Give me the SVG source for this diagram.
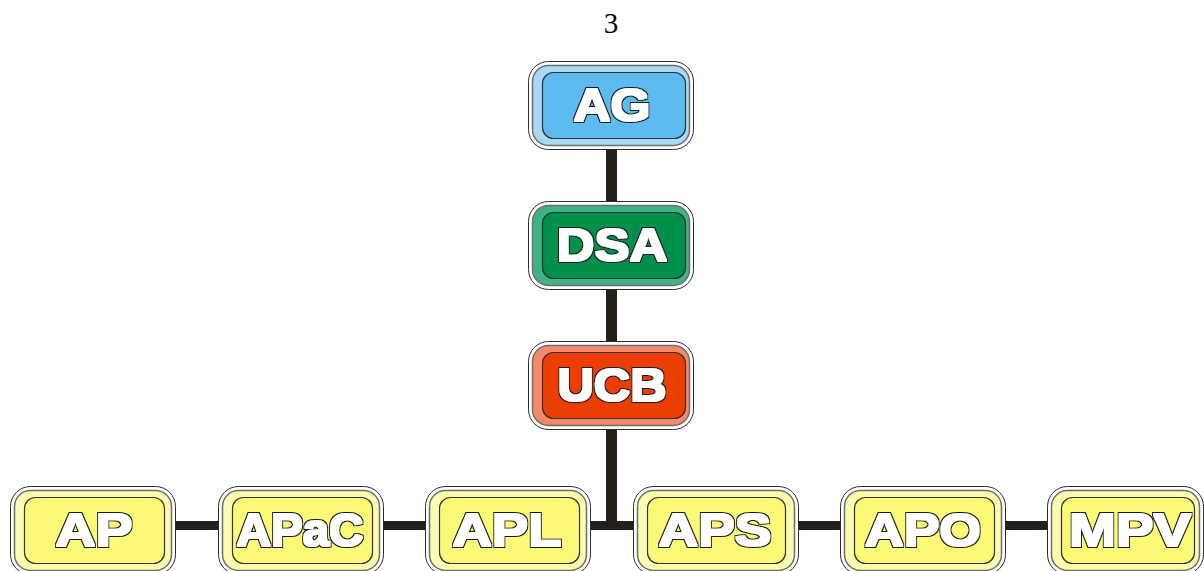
<svg xmlns="http://www.w3.org/2000/svg" width="1204" height="571" viewBox="0 0 1204 571">
<style>
.outer{fill:#ffffff;stroke:#2a2a2a;stroke-width:1}
.ring{stroke:#6e6e6e;stroke-width:1.5}
.inner{stroke:#333333;stroke-width:1.2}
.lbl{font-family:"Liberation Sans",Arial,sans-serif;font-weight:bold;font-size:46px;fill:#ffffff;text-anchor:middle;filter:url(#heavy)}
.conn{stroke:#231f1a;fill:none}
.blue .ring{fill:#a9d9f4}.blue .inner{fill:#5cbcf0}
.green .ring{fill:#3fb386}.green .inner{fill:#00904c}
.red .ring{fill:#f4896a}.red .inner{fill:#ec3e00}
.yel .ring{fill:#fdfcae}.yel .inner{fill:#fcf977}
</style>
<defs>
<filter id="heavy" x="-10%" y="-25%" width="120%" height="150%">
<feMorphology in="SourceAlpha" operator="dilate" radius="1.9" result="o"/>
<feFlood flood-color="#1e1e1e"/>
<feComposite in2="o" operator="in" result="dark"/>
<feMorphology in="SourceAlpha" operator="dilate" radius="0.9" result="i"/>
<feFlood flood-color="#ffffff"/>
<feComposite in2="i" operator="in" result="white"/>
<feMerge><feMergeNode in="dark"/><feMergeNode in="white"/></feMerge>
</filter>
</defs>
<text x="611" y="33" font-family="Liberation Serif,'Times New Roman',serif" font-size="29" fill="#000" text-anchor="middle">3</text>
<g id="connectors">
<line class="conn" x1="611.5" y1="148" x2="611.5" y2="530" stroke-width="11"/>
<line class="conn" x1="170" y1="525.5" x2="1050" y2="525.5" stroke-width="9"/>
</g>
<g id="AG" class="blue">
<rect class="outer" x="528.5" y="61.5" width="165" height="88" rx="20"/>
<rect class="ring" x="532.5" y="65.5" width="157" height="80" rx="16"/>
<rect class="inner" x="542.5" y="72.5" width="143" height="66" rx="11"/>
<text class="lbl" x="612" y="121" textLength="77" lengthAdjust="spacingAndGlyphs">AG</text>
</g>
<g id="DSA" class="green">
<rect class="outer" x="528.5" y="201.5" width="165" height="88" rx="20"/>
<rect class="ring" x="532.5" y="205.5" width="157" height="80" rx="16"/>
<rect class="inner" x="542.5" y="212.5" width="143" height="66" rx="11"/>
<text class="lbl" x="612" y="261" textLength="111" lengthAdjust="spacingAndGlyphs">DSA</text>
</g>
<g id="UCB" class="red">
<rect class="outer" x="528.5" y="341.5" width="165" height="88" rx="20"/>
<rect class="ring" x="532.5" y="345.5" width="157" height="80" rx="16"/>
<rect class="inner" x="542.5" y="352.5" width="143" height="66" rx="11"/>
<text class="lbl" x="612" y="401" textLength="109" lengthAdjust="spacingAndGlyphs">UCB</text>
</g>
<g id="AP" class="yel">
<rect class="outer" x="10.5" y="486.5" width="165" height="88" rx="20"/>
<rect class="ring" x="14.5" y="490.5" width="157" height="80" rx="16"/>
<rect class="inner" x="24.5" y="497.5" width="140" height="66" rx="11"/>
<text class="lbl" x="94" y="546" textLength="77" lengthAdjust="spacingAndGlyphs">AP</text>
</g>
<g id="APaC" class="yel">
<rect class="outer" x="218.5" y="486.5" width="165" height="88" rx="20"/>
<rect class="ring" x="222.5" y="490.5" width="157" height="80" rx="16"/>
<rect class="inner" x="232.5" y="497.5" width="140" height="66" rx="11"/>
<text class="lbl" x="300" y="546" textLength="127" lengthAdjust="spacingAndGlyphs">APaC</text>
</g>
<g id="APL" class="yel">
<rect class="outer" x="425.5" y="486.5" width="165" height="88" rx="20"/>
<rect class="ring" x="429.5" y="490.5" width="157" height="80" rx="16"/>
<rect class="inner" x="439.5" y="497.5" width="140" height="66" rx="11"/>
<text class="lbl" x="507" y="546" textLength="109" lengthAdjust="spacingAndGlyphs">APL</text>
</g>
<g id="APS" class="yel">
<rect class="outer" x="633.5" y="486.5" width="165" height="88" rx="20"/>
<rect class="ring" x="637.5" y="490.5" width="157" height="80" rx="16"/>
<rect class="inner" x="647.5" y="497.5" width="138" height="66" rx="11"/>
<text class="lbl" x="715" y="546" textLength="113" lengthAdjust="spacingAndGlyphs">APS</text>
</g>
<g id="APO" class="yel">
<rect class="outer" x="840.5" y="486.5" width="165" height="88" rx="20"/>
<rect class="ring" x="844.5" y="490.5" width="157" height="80" rx="16"/>
<rect class="inner" x="854.5" y="497.5" width="140" height="66" rx="11"/>
<text class="lbl" x="923" y="546" textLength="116" lengthAdjust="spacingAndGlyphs">APO</text>
</g>
<g id="MPV" class="yel">
<rect class="outer" x="1047.5" y="486.5" width="156" height="88" rx="20"/>
<rect class="ring" x="1051.5" y="490.5" width="148" height="80" rx="16"/>
<rect class="inner" x="1061.5" y="497.5" width="133" height="66" rx="11"/>
<text class="lbl" x="1130" y="546" textLength="122" lengthAdjust="spacingAndGlyphs">MPV</text>
</g>
</svg>
